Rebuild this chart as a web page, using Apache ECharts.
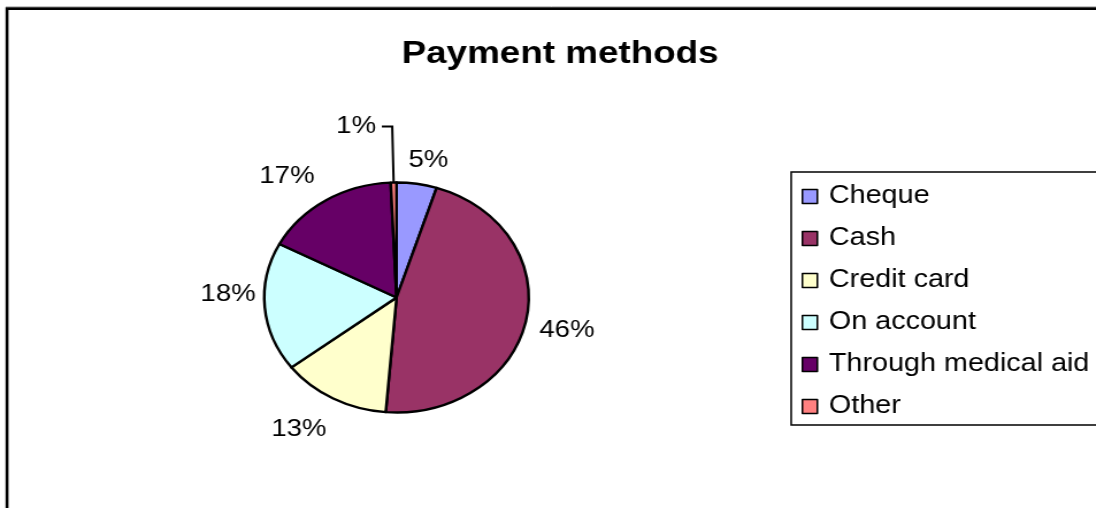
<!DOCTYPE html>
<html>
<head>
<meta charset="utf-8">
<title>Payment methods</title>
<script src="https://cdn.jsdelivr.net/npm/echarts@6/dist/echarts.min.js"></script>
<style>
  html, body { margin: 0; padding: 0; background: #fff; overflow: hidden; }
  #wrap { width: 1096px; height: 508px; overflow: hidden; }
  /* the chart is laid out narrower and widened, giving the oval pie and wide lettering */
  #chart { width: 953px; height: 508px; transform: scaleX(1.15); transform-origin: 0 0; }
</style>
</head>
<body>
<div id="wrap"><div id="chart"></div></div>
<script>
const title = 'Payment methods';
const categories = ['Cheque', 'Cash', 'Credit card', 'On account', 'Through medical aid', 'Other'];
const shares = [4.9, 46.4, 13.3, 18.1, 16.6, 0.7];
const colors = ['#9999FF', '#993366', '#FFFFCC', '#CCFFFF', '#660066', '#FF8080'];

const FONT = "'Liberation Sans', Arial, sans-serif";
const CX = 344.8, CY = 297.5, R = 115;
const pctLabel = p => Math.round(p.percent) + '%';

// small shifts of the percentage labels off the mid-angle ring
const labelShift = {
  'Cheque': [5, 9],
  'Cash': [3, 4],
  'Credit card': [-14, 2],
  'On account': [1, -16],
  'Through medical aid': [-16, 4]
};

const slices = categories.map((name, i) => ({
  name: name,
  value: shares[i],
  // the thinnest slice carries its label out on a leader line
  label: name === 'Other' ? { show: true } : { show: false },
  labelLine: { show: name === 'Other' }
}));

const ringLabels = categories.map((name, i) => ({
  name: name,
  value: shares[i],
  label: { show: name !== 'Other', offset: labelShift[name] || [0, 0] }
}));

const chart = echarts.init(document.getElementById('chart'), null, { renderer: 'canvas' });
chart.setOption({
  animation: false,
  backgroundColor: '#fff',
  color: colors,
  title: {
    text: title,
    left: 487, top: 38, padding: 0,
    textAlign: 'center',
    textStyle: { fontFamily: FONT, fontSize: 32, fontWeight: 'bold', color: '#000', lineHeight: 32 }
  },
  legend: {
    orient: 'vertical',
    left: 688, top: 172,
    padding: [12, 30, 6, 9],
    itemGap: 17,
    itemWidth: 13, itemHeight: 14,
    icon: 'rect',
    borderColor: '#000', borderWidth: 1.5,
    itemStyle: { borderColor: '#000', borderWidth: 1.5 },
    selectedMode: false,
    data: categories,
    textStyle: { fontFamily: FONT, fontSize: 25, color: '#000', lineHeight: 25, padding: [0, 0, 0, 5] }
  },
  graphic: [
    { type: 'line', silent: true, shape: { x1: 5, y1: 6.5, x2: 2000, y2: 6.5 }, style: { stroke: '#c4c4c4', lineWidth: 1 } },
    { type: 'rect', silent: true, shape: { x: 6.1, y: 8.6, width: 2000, height: 2000 }, style: { fill: null, stroke: '#000', lineWidth: 2.6 } }
  ],
  series: [
    {
      type: 'pie',
      center: [CX, CY],
      radius: [0, R],
      startAngle: 90,
      clockwise: true,
      avoidLabelOverlap: false,
      silent: true,
      itemStyle: { borderColor: '#000', borderWidth: 2.4 },
      label: {
        position: 'outside',
        formatter: pctLabel,
        fontFamily: FONT, fontSize: 24, color: '#000',
        distanceToLabelLine: 5
      },
      labelLine: {
        length: 56, length2: 9,
        lineStyle: { color: '#000', width: 2 }
      },
      emphasis: { disabled: true },
      data: slices
    },
    {
      // unfilled ring that only places the percentage labels around the pie
      type: 'pie',
      center: [CX, CY],
      radius: [143, 147],
      startAngle: 90,
      clockwise: true,
      avoidLabelOverlap: false,
      silent: true,
      legendHoverLink: false,
      itemStyle: { color: 'rgba(0,0,0,0)', borderWidth: 0 },
      label: {
        position: 'inside',
        formatter: pctLabel,
        fontFamily: FONT, fontSize: 24, color: '#000'
      },
      labelLine: { show: false },
      emphasis: { disabled: true },
      data: ringLabels
    }
  ]
});
</script>
</body>
</html>
